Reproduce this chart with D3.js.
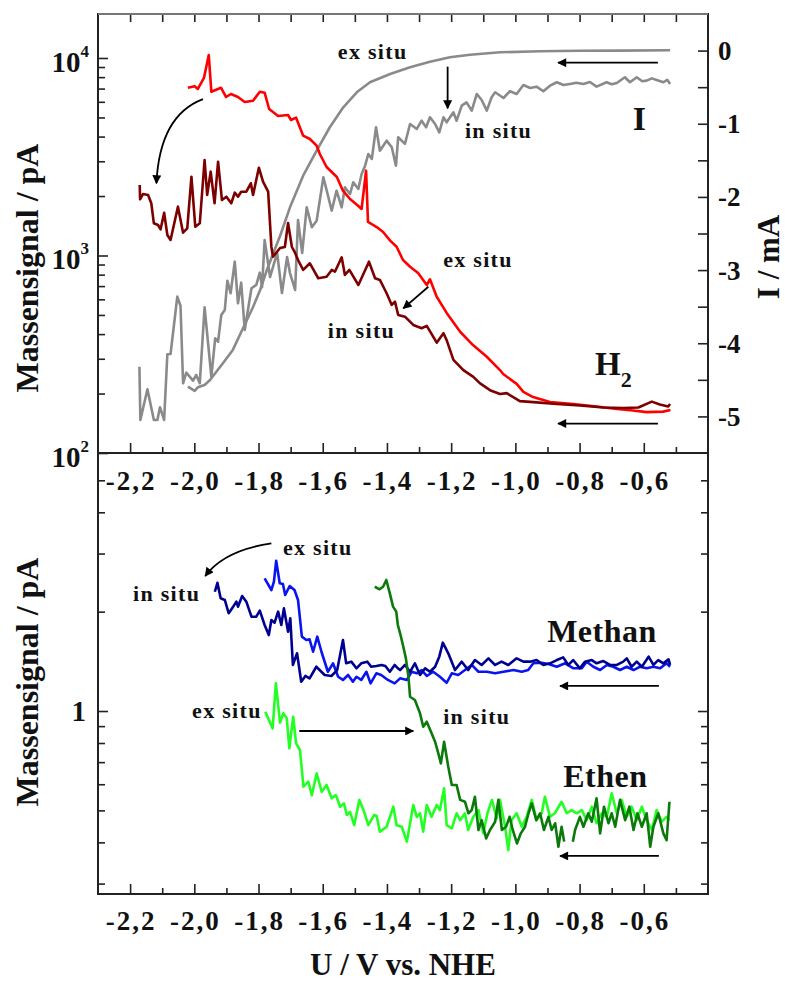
<!DOCTYPE html>
<html><head><meta charset="utf-8">
<script src="https://cdn.jsdelivr.net/npm/d3@7"></script>
<style>
body{margin:0;background:#fff}
text{font-family:"Liberation Serif","Times New Roman",serif;font-weight:bold;fill:#111}
</style></head>
<body><svg id="c" width="785" height="983"></svg>
<script>
// ---------------- data (U / V vs. NHE , value) ----------------
const h2ExSitu = [[-2.020,7070],[-1.999,7200],[-1.989,6970],[-1.970,7920],[-1.955,10360],[-1.947,6750],[-1.917,7070],[-1.901,6345],[-1.886,6570],[-1.864,6345],[-1.843,5986],[-1.817,6078],[-1.796,6750],[-1.781,6673],[-1.767,5518],[-1.739,5086],[-1.708,5145],[-1.699,4853],[-1.683,4986],[-1.661,4043],[-1.640,3890],[-1.619,3597],[-1.609,3265],[-1.588,2806],[-1.556,2497],[-1.537,2129],[-1.515,1932],[-1.490,1787],[-1.479,1720],[-1.465,2688],[-1.459,1478],[-1.432,1394],[-1.412,1315],[-1.390,1189],[-1.370,1108],[-1.350,949],[-1.328,877],[-1.303,815],[-1.276,709],[-1.266,758],[-1.245,618],[-1.214,512],[-1.172,411],[-1.132,352],[-1.089,307],[-1.048,263],[-1.038,251],[-0.996,224],[-0.975,204],[-0.945,192],[-0.892,181],[-0.820,177],[-0.747,172],[-0.684,167],[-0.634,164],[-0.591,161],[-0.540,162],[-0.517,165]];
const h2InSitu = [[-2.170,2275],[-2.169,1925],[-2.160,2048],[-2.144,2024],[-2.134,1838],[-2.126,1455],[-2.113,1427],[-2.105,1357],[-2.094,1647],[-2.084,1270],[-2.074,1198],[-2.051,1767],[-2.035,1305],[-2.022,1373],[-2.009,2506],[-1.997,1399],[-1.983,1455],[-1.968,3044],[-1.960,2024],[-1.949,2657],[-1.937,1838],[-1.926,2985],[-1.914,1910],[-1.900,1985],[-1.885,1838],[-1.874,2080],[-1.864,1985],[-1.854,2104],[-1.838,2104],[-1.824,2321],[-1.817,2024],[-1.799,2783],[-1.786,2364],[-1.770,2104],[-1.760,1108],[-1.755,986],[-1.733,1091],[-1.718,1104],[-1.708,1461],[-1.696,1104],[-1.686,1030],[-1.677,949],[-1.661,845],[-1.640,913],[-1.614,767],[-1.588,781],[-1.572,845],[-1.562,828],[-1.541,979],[-1.531,797],[-1.517,845],[-1.489,709],[-1.456,930],[-1.437,767],[-1.422,752],[-1.401,644],[-1.385,562],[-1.375,584],[-1.365,500],[-1.344,490],[-1.318,445],[-1.292,428],[-1.276,440],[-1.245,362],[-1.224,404],[-1.214,373],[-1.193,296],[-1.162,263],[-1.131,243],[-1.110,225],[-1.079,208],[-1.048,199],[-1.027,201],[-0.986,183],[-0.944,181],[-0.871,177],[-0.799,174],[-0.726,170],[-0.664,169],[-0.617,170],[-0.575,182],[-0.550,176],[-0.524,172],[-0.518,177]];
const iExSitu = [[-2.020,-4.593],[-1.999,-4.652],[-1.989,-4.602],[-1.968,-4.570],[-1.951,-4.502],[-1.932,-4.392],[-1.908,-4.256],[-1.880,-4.091],[-1.848,-3.791],[-1.817,-3.504],[-1.795,-3.272],[-1.774,-2.999],[-1.755,-2.780],[-1.733,-2.534],[-1.702,-2.142],[-1.661,-1.710],[-1.619,-1.368],[-1.578,-1.048],[-1.536,-0.775],[-1.494,-0.570],[-1.453,-0.433],[-1.390,-0.320],[-1.328,-0.228],[-1.266,-0.152],[-1.204,-0.092],[-1.141,-0.056],[-1.048,-0.023],[-0.923,-0.010],[-0.799,-0.003],[-0.675,0.000],[-0.518,0.005]];
const iInSitu = [[-2.171,-4.320],[-2.168,-5.048],[-2.146,-4.629],[-2.126,-5.048],[-2.115,-5.048],[-2.107,-4.875],[-2.094,-5.048],[-2.084,-4.151],[-2.074,-4.147],[-2.053,-3.363],[-2.043,-3.490],[-2.035,-4.547],[-2.025,-4.402],[-2.004,-4.511],[-1.994,-4.434],[-1.983,-4.547],[-1.968,-3.508],[-1.947,-4.457],[-1.935,-3.932],[-1.926,-3.978],[-1.916,-3.614],[-1.905,-3.545],[-1.897,-3.145],[-1.887,-3.317],[-1.874,-2.885],[-1.864,-3.454],[-1.854,-3.172],[-1.843,-3.819],[-1.822,-3.249],[-1.807,-3.203],[-1.796,-3.035],[-1.789,-3.235],[-1.781,-2.588],[-1.764,-3.094],[-1.742,-2.766],[-1.727,-3.313],[-1.711,-2.821],[-1.702,-3.040],[-1.686,-3.272],[-1.677,-2.315],[-1.664,-2.766],[-1.650,-2.142],[-1.634,-2.415],[-1.619,-2.325],[-1.598,-1.732],[-1.572,-2.188],[-1.557,-1.915],[-1.541,-2.142],[-1.531,-1.868],[-1.515,-1.960],[-1.505,-1.800],[-1.489,-1.891],[-1.479,-1.686],[-1.468,-1.573],[-1.458,-1.413],[-1.447,-1.481],[-1.434,-1.048],[-1.422,-1.368],[-1.401,-1.231],[-1.385,-1.322],[-1.372,-1.573],[-1.365,-1.185],[-1.344,-1.276],[-1.328,-1.003],[-1.307,-1.071],[-1.292,-0.958],[-1.278,-1.048],[-1.266,-0.912],[-1.250,-1.003],[-1.237,-1.117],[-1.224,-0.912],[-1.214,-0.980],[-1.193,-0.843],[-1.183,-0.958],[-1.167,-0.753],[-1.152,-0.707],[-1.136,-0.821],[-1.120,-0.593],[-1.105,-0.675],[-1.089,-0.821],[-1.074,-0.638],[-1.063,-0.570],[-1.037,-0.648],[-1.017,-0.556],[-0.996,-0.593],[-0.975,-0.470],[-0.954,-0.511],[-0.934,-0.493],[-0.913,-0.556],[-0.892,-0.480],[-0.871,-0.433],[-0.850,-0.470],[-0.830,-0.456],[-0.810,-0.440],[-0.788,-0.456],[-0.768,-0.430],[-0.747,-0.493],[-0.716,-0.433],[-0.700,-0.460],[-0.684,-0.443],[-0.659,-0.365],[-0.643,-0.433],[-0.622,-0.365],[-0.605,-0.420],[-0.591,-0.411],[-0.575,-0.380],[-0.560,-0.402],[-0.539,-0.433],[-0.527,-0.400],[-0.518,-0.456]];
const methanInSitu = [[-1.936,2.298],[-1.928,2.447],[-1.918,2.195],[-1.905,2.170],[-1.893,1.978],[-1.879,2.071],[-1.869,2.144],[-1.864,2.071],[-1.851,2.231],[-1.838,2.144],[-1.822,1.931],[-1.807,1.931],[-1.796,2.014],[-1.781,1.822],[-1.768,1.699],[-1.760,1.887],[-1.750,1.852],[-1.739,2.000],[-1.729,1.822],[-1.721,2.047],[-1.708,1.739],[-1.701,1.910],[-1.693,1.379],[-1.680,1.496],[-1.667,1.227],[-1.654,1.277],[-1.641,1.256],[-1.620,1.362],[-1.594,1.286],[-1.573,1.277],[-1.555,1.331],[-1.537,1.641],[-1.527,1.395],[-1.511,1.411],[-1.495,1.347],[-1.480,1.395],[-1.461,1.411],[-1.449,1.362],[-1.433,1.369],[-1.417,1.379],[-1.405,1.369],[-1.391,1.315],[-1.376,1.379],[-1.366,1.347],[-1.359,1.331],[-1.344,1.379],[-1.328,1.315],[-1.313,1.395],[-1.297,1.286],[-1.281,1.347],[-1.266,1.315],[-1.250,1.362],[-1.237,1.461],[-1.226,1.611],[-1.209,1.496],[-1.188,1.331],[-1.167,1.411],[-1.147,1.331],[-1.126,1.427],[-1.105,1.379],[-1.084,1.444],[-1.063,1.379],[-1.043,1.411],[-1.022,1.379],[-0.996,1.444],[-0.975,1.411],[-0.954,1.411],[-0.934,1.427],[-0.913,1.379],[-0.892,1.395],[-0.871,1.427],[-0.851,1.454],[-0.835,1.379],[-0.820,1.427],[-0.799,1.347],[-0.783,1.411],[-0.762,1.427],[-0.747,1.395],[-0.726,1.417],[-0.705,1.379],[-0.684,1.379],[-0.664,1.411],[-0.653,1.444],[-0.638,1.362],[-0.622,1.411],[-0.606,1.362],[-0.585,1.461],[-0.570,1.379],[-0.555,1.427],[-0.539,1.395],[-0.523,1.434],[-0.518,1.379]];
const methanExSitu = [[-1.781,2.524],[-1.760,2.326],[-1.752,2.465],[-1.745,2.854],[-1.734,2.438],[-1.724,2.426],[-1.717,2.246],[-1.703,2.392],[-1.688,2.326],[-1.677,2.170],[-1.665,1.680],[-1.651,1.641],[-1.641,1.649],[-1.630,1.512],[-1.617,1.680],[-1.604,1.512],[-1.584,1.315],[-1.568,1.395],[-1.552,1.270],[-1.537,1.242],[-1.521,1.286],[-1.506,1.227],[-1.495,1.270],[-1.480,1.242],[-1.464,1.315],[-1.451,1.213],[-1.433,1.301],[-1.418,1.286],[-1.397,1.242],[-1.376,1.213],[-1.359,1.256],[-1.338,1.242],[-1.323,1.315],[-1.307,1.301],[-1.292,1.331],[-1.276,1.277],[-1.256,1.315],[-1.235,1.270],[-1.214,1.218],[-1.198,1.301],[-1.178,1.286],[-1.157,1.331],[-1.136,1.379],[-1.115,1.315],[-1.089,1.315],[-1.063,1.301],[-1.037,1.315],[-1.006,1.331],[-0.980,1.315],[-0.960,1.331],[-0.944,1.395],[-0.918,1.401],[-0.897,1.388],[-0.871,1.362],[-0.845,1.395],[-0.819,1.347],[-0.793,1.347],[-0.778,1.411],[-0.757,1.362],[-0.736,1.331],[-0.715,1.379],[-0.695,1.362],[-0.674,1.331],[-0.653,1.362],[-0.632,1.331],[-0.612,1.362],[-0.591,1.347],[-0.570,1.362],[-0.549,1.347],[-0.529,1.395],[-0.518,1.362]];
const ethenInSitu = [[-1.438,2.380],[-1.423,2.338],[-1.412,2.380],[-1.402,2.495],[-1.391,2.273],[-1.381,2.071],[-1.371,2.000],[-1.366,1.822],[-1.359,1.720],[-1.349,1.566],[-1.341,1.444],[-1.333,1.270],[-1.328,1.105],[-1.313,1.080],[-1.297,0.984],[-1.287,0.896],[-1.276,0.928],[-1.261,0.856],[-1.250,0.807],[-1.240,0.744],[-1.232,0.694],[-1.222,0.807],[-1.209,0.678],[-1.198,0.597],[-1.183,0.597],[-1.172,0.538],[-1.157,0.531],[-1.146,0.490],[-1.136,0.501],[-1.126,0.550],[-1.115,0.436],[-1.105,0.467],[-1.091,0.411],[-1.079,0.436],[-1.063,0.462],[-1.053,0.538],[-1.042,0.436],[-1.029,0.446],[-1.018,0.478],[-1.008,0.436],[-0.995,0.397],[-0.983,0.426],[-0.970,0.446],[-0.959,0.490],[-0.949,0.525],[-0.935,0.467],[-0.923,0.490],[-0.911,0.436],[-0.897,0.478],[-0.887,0.436],[-0.876,0.457],[-0.866,0.388],[-0.856,0.446],[-0.848,0.402],[-0.835,null],[-0.821,0.402],[-0.814,0.436],[-0.799,0.478],[-0.788,0.446],[-0.773,0.490],[-0.762,0.462],[-0.747,0.544],[-0.736,0.426],[-0.724,0.513],[-0.710,0.457],[-0.700,0.490],[-0.689,0.446],[-0.674,0.538],[-0.658,0.467],[-0.645,0.513],[-0.632,0.436],[-0.620,0.490],[-0.606,0.446],[-0.591,0.490],[-0.580,0.388],[-0.570,0.446],[-0.555,0.490],[-0.539,0.426],[-0.529,0.406],[-0.520,0.531]];
const ethenExSitu = [[-1.779,0.995],[-1.756,0.886],[-1.746,1.213],[-1.733,0.922],[-1.723,0.984],[-1.712,0.950],[-1.704,0.771],[-1.692,0.961],[-1.683,0.798],[-1.671,0.762],[-1.660,0.590],[-1.645,0.611],[-1.634,0.556],[-1.619,0.647],[-1.603,0.569],[-1.588,0.597],[-1.572,0.544],[-1.559,0.556],[-1.546,0.513],[-1.534,0.525],[-1.525,0.484],[-1.515,0.495],[-1.502,0.451],[-1.486,0.538],[-1.471,0.495],[-1.458,0.451],[-1.440,0.484],[-1.432,0.481],[-1.422,0.431],[-1.401,0.446],[-1.380,0.513],[-1.370,0.451],[-1.354,0.446],[-1.338,0.402],[-1.318,0.519],[-1.307,0.478],[-1.297,0.490],[-1.287,0.431],[-1.276,0.519],[-1.261,0.478],[-1.245,0.519],[-1.235,0.501],[-1.222,0.583],[-1.214,0.451],[-1.198,0.441],[-1.183,0.490],[-1.172,0.467],[-1.157,0.490],[-1.147,0.436],[-1.131,0.478],[-1.115,0.501],[-1.100,0.426],[-1.087,0.490],[-1.073,0.538],[-1.058,0.473],[-1.048,0.538],[-1.032,0.446],[-1.022,0.379],[-1.012,0.467],[-0.996,0.490],[-0.980,0.446],[-0.965,0.478],[-0.949,0.538],[-0.934,0.467],[-0.918,0.490],[-0.908,0.550],[-0.892,0.478],[-0.877,0.490],[-0.856,0.531],[-0.840,0.490],[-0.825,0.501],[-0.809,0.490],[-0.793,0.501],[-0.778,0.467],[-0.762,0.513],[-0.747,0.457],[-0.731,0.490],[-0.715,0.478],[-0.700,0.563],[-0.684,0.490],[-0.669,0.538],[-0.653,0.478],[-0.638,0.513],[-0.622,0.467],[-0.606,0.513],[-0.591,0.467],[-0.575,0.436],[-0.560,0.501],[-0.544,0.462],[-0.529,0.478],[-0.520,0.467]];

// tick values / labels
const xMajorTicks = [-2.2,-2.0,-1.8,-1.6,-1.4,-1.2,-1.0,-0.8,-0.6];
const xMinorTicks = [-2.1,-1.9,-1.7,-1.5,-1.3,-1.1,-0.9,-0.7,-0.5];
const h2MajorTicks = [100,1000,10000];
const h2MinorTicks = [200,300,400,500,600,700,800,900,2000,3000,4000,5000,6000,7000,8000,9000];
const iMajorTicks = [0,-1,-2,-3,-4,-5];
const iMinorTicks = [-0.5,-1.5,-2.5,-3.5,-4.5];
const msMajorTicks = [1];
const msMinorTicks = [0.3,0.4,0.5,0.6,0.7,0.8,0.9,2,3,4,5];

// ---------------- layout ----------------
const svg = d3.select("#c");
const L=98, R=708, T1=14, B1=453, T2=453, B2=894;
const x = d3.scaleLinear().domain([-2.3,-0.4]).range([L,R]);
const yH2 = d3.scaleLog().domain([100,16700]).range([B1,T1]);
const yI = d3.scaleLinear().domain([-5.5,0.5]).range([B1,T1]);
const yMS = d3.scaleLog().domain([0.279,6.05]).range([B2,T2]);

const defs = svg.append("defs");
defs.append("marker").attr("id","ah").attr("viewBox","0 0 10 10").attr("refX",9).attr("refY",5)
  .attr("markerWidth",13).attr("markerHeight",9).attr("markerUnits","userSpaceOnUse").attr("orient","auto")
  .append("path").attr("d","M0,0 L10,5 L0,10 z").attr("fill","#000");

function axisG(gen, tr){
  const g = svg.append("g").attr("transform",tr).call(gen);
  g.select(".domain").remove();
  g.selectAll("line").attr("stroke","#222").attr("stroke-width",1.6);
  g.selectAll("text").remove();
  return g;
}
// top panel ticks
axisG(d3.axisBottom(x).tickValues(xMajorTicks).tickSize(-10).tickSizeOuter(0), `translate(0,${B1})`);
axisG(d3.axisBottom(x).tickValues(xMinorTicks).tickSize(-6).tickSizeOuter(0), `translate(0,${B1})`);
axisG(d3.axisTop(x).tickValues(xMajorTicks.concat(xMinorTicks)).tickSize(-8).tickSizeOuter(0), `translate(0,${T1})`);
axisG(d3.axisLeft(yH2).tickValues(h2MajorTicks).tickSize(-10).tickSizeOuter(0), `translate(${L},0)`);
axisG(d3.axisLeft(yH2).tickValues(h2MinorTicks).tickSize(-7).tickSizeOuter(0), `translate(${L},0)`);
axisG(d3.axisRight(yI).tickValues(iMajorTicks.concat(iMinorTicks)).tickSize(-10).tickSizeOuter(0), `translate(${R},0)`);
// bottom panel ticks
axisG(d3.axisBottom(x).tickValues(xMajorTicks).tickSize(-10).tickSizeOuter(0), `translate(0,${B2})`);
axisG(d3.axisBottom(x).tickValues(xMinorTicks).tickSize(-6).tickSizeOuter(0), `translate(0,${B2})`);
axisG(d3.axisLeft(yMS).tickValues(msMajorTicks).tickSize(-10).tickSizeOuter(0), `translate(${L},0)`);
axisG(d3.axisLeft(yMS).tickValues(msMinorTicks).tickSize(-7).tickSizeOuter(0), `translate(${L},0)`);
axisG(d3.axisRight(yMS).tickValues(msMajorTicks).tickSize(-10).tickSizeOuter(0), `translate(${R},0)`);
axisG(d3.axisRight(yMS).tickValues(msMinorTicks).tickSize(-7).tickSizeOuter(0), `translate(${R},0)`);

// frames
svg.append("rect").attr("x",L).attr("y",T1).attr("width",R-L).attr("height",B1-T1)
  .attr("fill","none").attr("stroke","#222").attr("stroke-width",2);
svg.append("line").attr("x1",L).attr("x2",R).attr("y1",T1).attr("y2",T1).attr("stroke","#777").attr("stroke-width",2);
svg.append("rect").attr("x",L).attr("y",T2).attr("width",R-L).attr("height",B2-T2)
  .attr("fill","none").attr("stroke","#222").attr("stroke-width",2);

// ---------------- series ----------------
function drawLine(data, ys, color){
  svg.append("path").datum(data)
    .attr("d", d3.line().defined(d=>d[1]!=null).x(d=>x(d[0])).y(d=>ys(d[1])))
    .attr("fill","none").attr("stroke",color).attr("stroke-width",2.6).attr("stroke-linejoin","round");
}
drawLine(iExSitu, yI, "#8a8a8a");
drawLine(iInSitu, yI, "#8a8a8a");
drawLine(h2ExSitu, yH2, "#ff0000");
drawLine(h2InSitu, yH2, "#7d0000");
drawLine(methanExSitu, yMS, "#0a14f0");
drawLine(methanInSitu, yMS, "#000090");
drawLine(ethenExSitu, yMS, "#22ff22");
drawLine(ethenInSitu, yMS, "#0b7a0b");

// ---------------- annotations ----------------
function arrow(p0, p1, ys, ctrl){
  const p = d3.path();
  p.moveTo(x(p0[0]), ys(p0[1]));
  if(ctrl) p.quadraticCurveTo(x(ctrl[0]), ys(ctrl[1]), x(p1[0]), ys(p1[1]));
  else p.lineTo(x(p1[0]), ys(p1[1]));
  svg.append("path").attr("d",p.toString()).attr("fill","none").attr("stroke","#000")
    .attr("stroke-width",1.8).attr("marker-end","url(#ah)");
}
arrow([-1.973,6190],[-2.118,2321],yH2,[-2.108,5118]);
arrow([-1.211,-0.220],[-1.211,-0.789],yI);
arrow([-1.271,695],[-1.349,540],yH2);
arrow([-0.556,-0.165],[-0.867,-0.165],yI);
arrow([-0.556,141],[-0.867,141],yH2);
arrow([-1.760,3.22],[-1.966,2.565],yMS,[-1.907,3.07]);
arrow([-1.673,0.870],[-1.318,0.870],yMS);
arrow([-0.553,1.191],[-0.861,1.191],yMS);
arrow([-0.553,0.364],[-0.861,0.364],yMS);

function label(t, px, py, size, ls){
  return svg.append("text").attr("x",px).attr("y",py).attr("font-size",size)
    .attr("letter-spacing",ls||0).text(t);
}
label("ex situ", x(-1.553), yI(-0.115), 22, 1.3);
label("in situ", x(-1.157), yI(-1.194), 22, 1.3);
label("I", x(-0.634), yI(-1.085), 34);
label("ex situ", x(-1.225), yH2(874), 22, 1.3);
label("in situ", x(-1.584), yH2(382), 22, 1.3);
const h2t = label("H", x(-0.752), yH2(248), 33);
h2t.append("tspan").attr("font-size",22).attr("dy",12).text("2");
label("ex situ", x(-1.724), yMS(2.97), 22, 1.3);
label("in situ", x(-2.191), yMS(2.154), 22, 1.3);
label("ex situ", x(-2.007), yMS(0.952), 22, 1.3);
label("in situ", x(-1.225), yMS(0.913), 22, 1.3);
label("Methan", x(-0.901), yMS(1.622), 32, 0.5);
label("Ethen", x(-0.851), yMS(0.589), 32, 0.5);

// ---------------- tick labels ----------------
const fmt = v => v.toFixed(1).replace(".", ",");
[490, 930].forEach(by => {
  xMajorTicks.forEach(v => {
    svg.append("text").attr("x", x(v)+1).attr("y", by).attr("text-anchor","middle")
      .attr("font-size",27).attr("letter-spacing",2).text(fmt(v));
  });
});
h2MajorTicks.forEach(v => {
  const t = svg.append("text").attr("x", 89).attr("y", yH2(v)+14).attr("text-anchor","end").attr("font-size",29);
  t.append("tspan").text("10");
  t.append("tspan").attr("font-size",17).attr("dy",-15).text(String(Math.round(Math.log10(v))));
});
msMajorTicks.forEach(v => {
  svg.append("text").attr("x", 86).attr("y", yMS(v)+10).attr("text-anchor","end").attr("font-size",29).text(String(v));
});
iMajorTicks.forEach(v => {
  svg.append("text").attr("x", 718).attr("y", yI(v)+9.5).attr("font-size",27).text(String(v));
});

// ---------------- axis titles ----------------
svg.append("text").attr("transform","translate(38,268) rotate(-90)").attr("text-anchor","middle")
  .attr("font-size",32).text("Massensignal / pA");
svg.append("text").attr("transform","translate(38,682) rotate(-90)").attr("text-anchor","middle")
  .attr("font-size",32).text("Massensignal / pA");
svg.append("text").attr("transform","translate(779,257) rotate(-90)").attr("text-anchor","middle")
  .attr("font-size",31).text("I / mA");
svg.append("text").attr("x",403).attr("y",975).attr("text-anchor","middle")
  .attr("font-size",31).text("U / V vs. NHE");
</script>
</body></html>
